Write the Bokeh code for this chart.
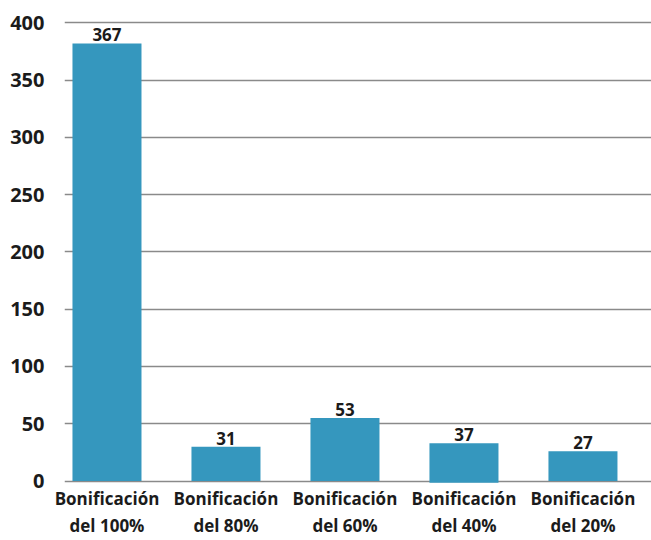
from bokeh.plotting import figure
from bokeh.models import ColumnDataSource, FixedTicker, LabelSet, Range1d
from bokeh.core.properties import value
from bokeh.embed import file_html
from bokeh.resources import INLINE

# Data
categories = ["Bonificación\ndel 100%", "Bonificación\ndel 80%", "Bonificación\ndel 60%",
              "Bonificación\ndel 40%", "Bonificación\ndel 20%"]
bar_heights = [382, 30, 55, 33, 26]          # drawn bar tops as seen in the picture
bar_bottoms = [0, 0, 0, -1.5, 0]
value_labels = ["367", "31", "53", "37", "27"]  # printed value labels
y_ticks = [0, 50, 100, 150, 200, 250, 300, 350, 400]

idx = list(range(len(categories)))
src = ColumnDataSource(dict(x=idx, top=bar_heights, bottom=bar_bottoms, lab=value_labels))

FONT = "Open Sans"
TXT = "#1b1b1b"

p = figure(width=651, height=540, output_backend="svg", toolbar_location=None,
           x_range=Range1d(-0.357, 4.576), y_range=Range1d(-3, 402),
           min_border_left=64, min_border_right=0, min_border_top=20, min_border_bottom=0)
p.outline_line_color = None
p.background_fill_color = "white"

p.vbar(x="x", top="top", bottom="bottom", width=0.58, source=src,
       fill_color="#3597be", line_color=None)

labels = LabelSet(x="x", y="top", text="lab", source=src, text_align="center",
                  text_baseline="bottom", y_offset=2, text_font=value(FONT),
                  text_font_style="bold", text_font_size="17px", text_color=TXT)
p.add_layout(labels)

# grid
p.xgrid.grid_line_color = None
p.ygrid.ticker = FixedTicker(ticks=y_ticks)
p.ygrid.grid_line_color = "#8a8a8a"
p.ygrid.grid_line_width = 1.3

# y axis
p.yaxis.ticker = FixedTicker(ticks=y_ticks)
p.yaxis.axis_line_color = None
p.yaxis.major_tick_line_color = None
p.yaxis.minor_tick_line_color = None
p.yaxis.major_tick_out = 0
p.yaxis.major_tick_in = 0
p.yaxis.major_label_standoff = 20
p.yaxis.major_label_text_font = FONT
p.yaxis.major_label_text_font_style = "bold"
p.yaxis.major_label_text_font_size = "20px"
p.yaxis.major_label_text_color = TXT

# x axis: two-line category labels
p.xaxis.ticker = FixedTicker(ticks=idx)
p.xaxis.major_label_overrides = {i: c for i, c in zip(idx, categories)}
p.xaxis.axis_line_color = None
p.xaxis.major_tick_line_color = None
p.xaxis.minor_tick_line_color = None
p.xaxis.major_tick_out = 0
p.xaxis.major_tick_in = 0
p.xaxis.major_label_standoff = 2
p.xaxis.major_label_text_font = FONT
p.xaxis.major_label_text_font_style = "bold"
p.xaxis.major_label_text_font_size = "17px"
p.xaxis.major_label_text_color = TXT

open("out.html", "w").write(file_html(p, INLINE))
